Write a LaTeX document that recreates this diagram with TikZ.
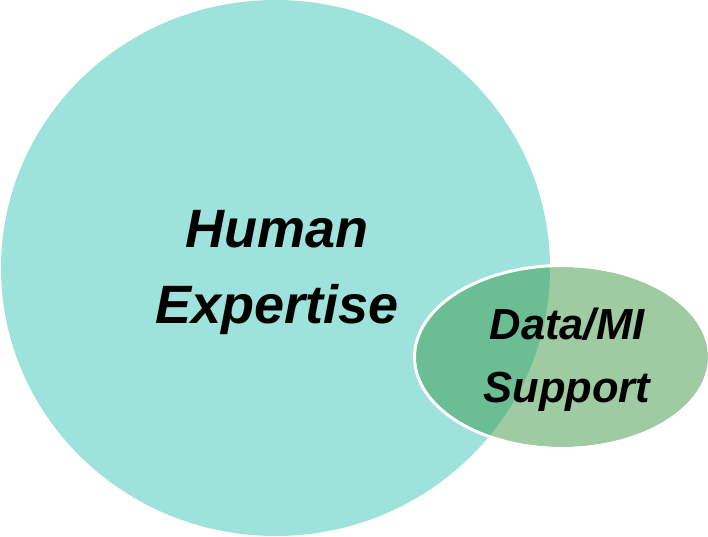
\documentclass[tikz,border=0pt]{standalone}
\usepackage{fontspec}
\setmainfont{Liberation Sans}
\usetikzlibrary{positioning}
\definecolor{humancol}{HTML}{9DE3DC}
\definecolor{datacol}{HTML}{9ECBA1}
\definecolor{bothcol}{HTML}{6BBD94}

\begin{document}
\begin{tikzpicture}
[x=1pt,y=1pt,
big label/.style={inner sep=0pt,anchor=base,font=\fontsize{54}{54}\selectfont\bfseries\itshape},
small label/.style={inner sep=0pt,anchor=base,font=\fontsize{43.5}{43.5}\selectfont\bfseries\itshape}]
\useasboundingbox (0,0) rectangle (708,536);
% the two sets
\coordinate (humanc) at (275.5,268);
\coordinate (datac) at (562,179);
\fill[humancol] (humanc) ellipse [x radius=274.5,y radius=268];
\fill[datacol] (datac) ellipse [x radius=146,y radius=90];
\begin{scope}
\clip (humanc) ellipse [x radius=274.5,y radius=268];
\fill[bothcol] (datac) ellipse [x radius=146,y radius=90];
\end{scope}
\draw[white,line width=3pt] (datac) ellipse [x radius=147.5,y radius=91.5];
% labels
\node[big label] (human) at (277,289) {Human};
\node[big label] (expertise) at (277,213) {Expertise};
\node[small label] (data) at (567,197) {Data/MI};
\node[small label] (support) at (567,134) {Support};
\end{tikzpicture}
\end{document}
